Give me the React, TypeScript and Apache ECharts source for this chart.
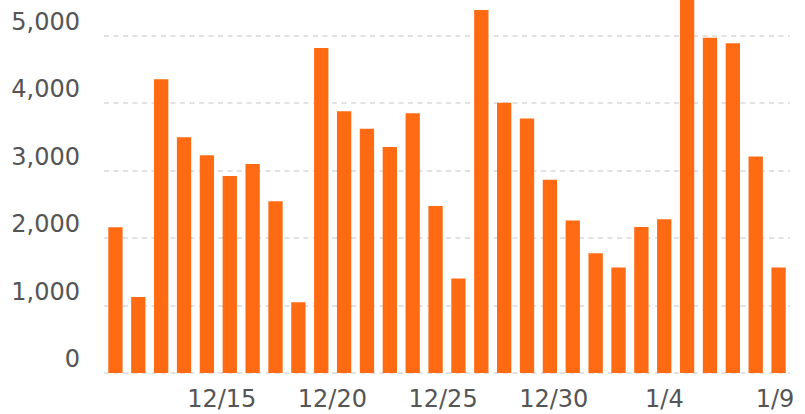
import React, { useEffect, useRef } from "react";
import * as echarts from "echarts";

// Daily dates (12/10 .. 1/8) and their values
const dates: string[] = [
  "12/10", "12/11", "12/12", "12/13", "12/14", "12/15", "12/16", "12/17", "12/18", "12/19",
  "12/20", "12/21", "12/22", "12/23", "12/24", "12/25", "12/26", "12/27", "12/28", "12/29",
  "12/30", "12/31", "1/1", "1/2", "1/3", "1/4", "1/5", "1/6", "1/7", "1/8",
];
const values: number[] = [
  2160, 1125, 4355, 3495, 3230, 2920, 3100, 2545, 1050, 4820,
  3880, 3620, 3350, 3850, 2475, 1400, 5380, 4005, 3775, 2865,
  2260, 1775, 1565, 2165, 2280, 5600, 4970, 4890, 3210, 1565,
];
// Axis label dates (the axis runs one day past the last bar, to 1/9)
const axisDates: string[] = [...dates, "1/9"];
const labeledDates: string[] = ["12/15", "12/20", "12/25", "12/30", "1/4", "1/9"];
const yTicks: number[] = [0, 1000, 2000, 3000, 4000, 5000];

const FONT = "DejaVu Sans";

export default function App() {
  const ref = useRef<HTMLDivElement>(null);
  useEffect(() => {
    if (!ref.current) return;
    const chart = echarts.init(ref.current, null, { renderer: "svg" });
    const gridTop = 0;
    const gridBottom = 41;
    const gridLeft = 104;
    const gridRight = 15;
    const band = (805 - gridLeft - gridRight) / dates.length;
    chart.setOption({
      animation: false,
      backgroundColor: "#ffffff",
      grid: [
        { left: gridLeft, right: gridRight, top: gridTop, bottom: gridBottom },
        { left: gridLeft, right: gridRight - band, top: gridTop, bottom: gridBottom },
      ],
      xAxis: [
        {
          type: "category",
          gridIndex: 0,
          data: dates,
          axisLine: { show: false },
          axisTick: { show: false },
          axisLabel: { show: false },
        },
        {
          type: "category",
          gridIndex: 1,
          data: axisDates,
          axisLine: { show: false },
          axisTick: { show: false },
          splitLine: { show: false },
          axisLabel: {
            interval: (_i: number, v: string) => labeledDates.includes(v),
            color: "#555555",
            fontFamily: FONT,
            fontSize: 24,
            lineHeight: 24,
            margin: 14,
            padding: [0, 8, 0, 0],
          },
        },
      ],
      yAxis: [
        {
          type: "value",
          gridIndex: 0,
          min: 0,
          max: 5530,
          interval: 1000,
          axisLine: { show: false },
          axisTick: { show: false, customValues: yTicks },
          splitLine: {
            show: true,
            lineStyle: { type: [5, 4.5], color: "#d9d9d9", width: 1.5 },
          },
          axisLabel: {
            customValues: yTicks,
            color: "#555555",
            fontFamily: FONT,
            fontSize: 24,
            lineHeight: 28,
            margin: 24,
            verticalAlign: "bottom",
            formatter: (v: number) => v.toLocaleString("en-US"),
          },
        },
        {
          type: "value",
          gridIndex: 1,
          show: false,
          min: 0,
          max: 5530,
          splitLine: { show: false },
        },
      ],
      series: [
        {
          type: "bar",
          xAxisIndex: 0,
          yAxisIndex: 0,
          data: values,
          barWidth: 14.3,
          clip: true,
          itemStyle: { color: "#ff6a12" },
        },
      ],
    });
    return () => chart.dispose();
  }, []);
  return (
    <div
      ref={ref}
      style={{ position: "absolute", left: 0, top: 0, width: 805, height: 414 }}
    />
  );
}
